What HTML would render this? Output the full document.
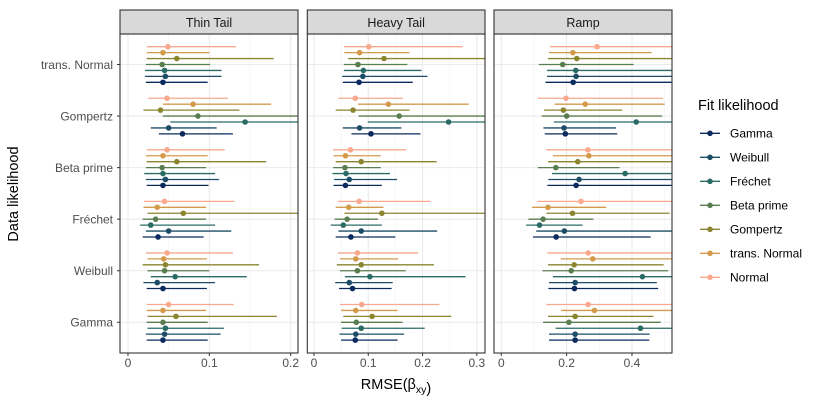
<!DOCTYPE html>
<html><head><meta charset="utf-8"><style>
body{margin:0;background:#fff;font-family:"Liberation Sans",sans-serif;}
svg text{font-family:"Liberation Sans",sans-serif;}
</style></head><body>
<svg id="chart" width="830" height="410" viewBox="0 0 830 410" xmlns="http://www.w3.org/2000/svg">
<g id="panels"></g>
<text transform="translate(18,194) rotate(-90)" text-anchor="middle" font-size="14.5" fill="#000">Data likelihood</text>
<text x="396" y="389" text-anchor="middle" font-size="14.5" fill="#000">RMSE(β<tspan font-size="10.5" dy="4">xy</tspan>)</text>
<g id="legend"></g>
</svg>
<script>
const categories=["Gamma","Weibull","Fréchet","Beta prime","Gompertz","trans. Normal"];
const series=["Gamma","Weibull","Fréchet","Beta prime","Gompertz","trans. Normal","Normal"];
const colors=["#0b2a5e","#1d4d66","#2a6b65","#5a7d4f","#8b8530","#d49a4c","#f8a98e"];
const panelTitles=["Thin Tail","Heavy Tail","Ramp"];
const ticks1=[0,0.1,0.2], ticks2=[0,0.1,0.2,0.3], ticks3=[0,0.2,0.4];
const tickLabels1=["0","0.1","0.2"], tickLabels2=["0","0.1","0.2","0.3"], tickLabels3=["0","0.2","0.4"];
// [lo, mid, hi] per category (Gamma..trans. Normal) per series (Gamma..Normal)
const thin=[
 [[0.023,0.043,0.098],[0.022,0.045,0.114],[0.024,0.046,0.118],[0.023,0.043,0.098],[0.024,0.059,0.183],[0.023,0.043,0.096],[0.023,0.050,0.130]],
 [[0.023,0.043,0.097],[0.019,0.036,0.107],[0.028,0.058,0.146],[0.024,0.045,0.100],[0.018,0.046,0.161],[0.024,0.044,0.097],[0.022,0.048,0.129]],
 [[0.018,0.037,0.093],[0.022,0.050,0.127],[0.015,0.028,0.107],[0.018,0.034,0.096],[0.024,0.068,0.300],[0.019,0.036,0.096],[0.020,0.045,0.131]],
 [[0.023,0.043,0.099],[0.022,0.046,0.112],[0.020,0.043,0.107],[0.022,0.042,0.096],[0.023,0.060,0.170],[0.022,0.043,0.098],[0.023,0.048,0.119]],
 [[0.038,0.067,0.129],[0.028,0.050,0.109],[0.052,0.144,0.300],[0.043,0.086,0.250],[0.019,0.040,0.137],[0.043,0.080,0.176],[0.025,0.048,0.123]],
 [[0.022,0.043,0.098],[0.021,0.046,0.115],[0.021,0.045,0.115],[0.022,0.042,0.101],[0.023,0.060,0.179],[0.023,0.043,0.100],[0.023,0.049,0.133]]
];
const heavy=[
 [[0.050,0.076,0.154],[0.047,0.077,0.166],[0.051,0.087,0.204],[0.050,0.078,0.163],[0.054,0.107,0.253],[0.050,0.077,0.154],[0.048,0.088,0.231]],
 [[0.046,0.071,0.143],[0.039,0.065,0.145],[0.057,0.103,0.279],[0.048,0.080,0.169],[0.042,0.087,0.221],[0.048,0.077,0.155],[0.044,0.080,0.192]],
 [[0.040,0.068,0.150],[0.045,0.087,0.227],[0.031,0.054,0.125],[0.038,0.061,0.118],[0.056,0.125,0.400],[0.040,0.064,0.128],[0.044,0.083,0.215]],
 [[0.036,0.058,0.125],[0.037,0.065,0.153],[0.034,0.059,0.140],[0.035,0.057,0.123],[0.040,0.087,0.226],[0.036,0.058,0.123],[0.035,0.067,0.170]],
 [[0.069,0.105,0.196],[0.053,0.084,0.161],[0.099,0.248,0.400],[0.082,0.157,0.400],[0.040,0.072,0.176],[0.081,0.137,0.285],[0.045,0.076,0.164]],
 [[0.053,0.083,0.182],[0.052,0.090,0.209],[0.055,0.091,0.198],[0.055,0.081,0.172],[0.063,0.129,0.350],[0.056,0.084,0.176],[0.055,0.101,0.274]]
];
const ramp=[
 [[0.146,0.226,0.453],[0.146,0.226,0.454],[0.166,0.426,0.600],[0.128,0.207,0.488],[0.143,0.226,0.466],[0.183,0.285,0.600],[0.138,0.266,0.600]],
 [[0.144,0.224,0.480],[0.146,0.226,0.476],[0.158,0.432,0.600],[0.126,0.214,0.511],[0.143,0.223,0.497],[0.182,0.280,0.600],[0.141,0.266,0.600]],
 [[0.097,0.168,0.457],[0.107,0.193,0.600],[0.076,0.117,0.249],[0.083,0.128,0.282],[0.138,0.218,0.515],[0.094,0.143,0.321],[0.110,0.244,0.600]],
 [[0.141,0.229,0.600],[0.144,0.238,0.600],[0.155,0.379,0.600],[0.112,0.167,0.362],[0.143,0.234,0.600],[0.158,0.268,0.600],[0.138,0.265,0.600]],
 [[0.133,0.196,0.355],[0.129,0.192,0.351],[0.161,0.413,0.600],[0.124,0.200,0.492],[0.131,0.190,0.370],[0.163,0.257,0.500],[0.112,0.198,0.495]],
 [[0.135,0.220,0.600],[0.140,0.229,0.600],[0.140,0.228,0.600],[0.115,0.188,0.405],[0.143,0.231,0.600],[0.146,0.219,0.460],[0.149,0.293,0.600]]
];
const NS="http://www.w3.org/2000/svg";
function mk(tag,attrs,parent){const e=document.createElementNS(NS,tag);for(const k in attrs)e.setAttribute(k,attrs[k]);parent.appendChild(e);return e;}
const panelsG=document.getElementById('panels');
const yTop=34,yBot=353;
function yCat(i){return 322.3-i*51.56;}
function ySer(i,s){return yCat(i)+(3-s)*5.93;}
const panels=[
 {x0:120,x1:298,d0:-0.0098,d1:0.209,data:thin,ticks:ticks1,labels:tickLabels1,minor:[0.05,0.15]},
 {x0:307.3,x1:485,d0:-0.0123,d1:0.315,data:heavy,ticks:ticks2,labels:tickLabels2,minor:[0.05,0.15,0.25]},
 {x0:494,x1:672,d0:-0.0223,d1:0.5225,data:ramp,ticks:ticks3,labels:tickLabels3,minor:[0.1,0.3,0.5]}
];
panels.forEach((p,pi)=>{
 const xs=v=>p.x0+(v-p.d0)/(p.d1-p.d0)*(p.x1-p.x0);
 const g=mk('g',{},panelsG);
 
 
 const cid='clip'+pi;
 const cp=mk('clipPath',{id:cid},g);mk('rect',{x:p.x0,y:yTop,width:p.x1-p.x0,height:yBot-yTop},cp);
 p.minor.forEach(v=>mk('line',{x1:xs(v),x2:xs(v),y1:yTop,y2:yBot,stroke:'#f2f2f2','stroke-width':0.6},g));
 p.ticks.forEach(v=>mk('line',{x1:xs(v),x2:xs(v),y1:yTop,y2:yBot,stroke:'#ebebeb','stroke-width':1.1},g));
 categories.forEach((c,i)=>mk('line',{x1:p.x0,x2:p.x1,y1:yCat(i),y2:yCat(i),stroke:'#ebebeb','stroke-width':1.1},g));
 const mg=mk('g',{'clip-path':'url(#'+cid+')'},g);
 p.data.forEach((cat,i)=>cat.forEach((d,s)=>{
  const y=ySer(i,s);
  const l=mk('line',{x1:xs(d[0]),x2:xs(d[2]),y1:y,y2:y,stroke:colors[s],'stroke-width':1.3},mg);
  
  
  const c=mk('circle',{cx:xs(d[1]),cy:y,r:2.8,fill:colors[s]},mg);
  
  
 }));
 mk('rect',{x:p.x0,y:yTop,width:p.x1-p.x0,height:yBot-yTop,fill:'none',stroke:'#333','stroke-width':1.1},g);
 const st=mk('rect',{x:p.x0,y:10,width:p.x1-p.x0,height:yTop-10,fill:'#d9d9d9',stroke:'#333','stroke-width':1.1},g);
 
 
 const tt=mk('text',{x:(p.x0+p.x1)/2,y:27,'text-anchor':'middle','font-size':12.5,fill:'#1a1a1a'},g);
 tt.textContent=panelTitles[pi];
 
 
 p.ticks.forEach((v,k)=>{
  mk('line',{x1:xs(v),x2:xs(v),y1:yBot,y2:yBot+3,stroke:'#333','stroke-width':1},g);
  const t=mk('text',{x:xs(v),y:yBot+14,'text-anchor':'middle','font-size':12,fill:'#4d4d4d'},g);
  t.textContent=p.labels[k];
  
  
 });
});
categories.forEach((c,i)=>{
 mk('line',{x1:117,x2:120,y1:yCat(i),y2:yCat(i),stroke:'#333','stroke-width':1},panelsG);
 const t=mk('text',{x:113,y:yCat(i)+4.3,'text-anchor':'end','font-size':12,fill:'#4d4d4d'},panelsG);
 t.textContent=c;
 
 
});
const lg=document.getElementById('legend');
const lt=mk('text',{x:698,y:110,'font-size':14.5,fill:'#000'},lg);
lt.textContent='Fit likelihood';


series.forEach((s,k)=>{
 const y=133.3+k*24;
 const e=mk('g',{},lg);
 
 
 mk('line',{x1:700,x2:720,y1:y,y2:y,stroke:colors[k],'stroke-width':1.3},e);
 mk('circle',{cx:710,cy:y,r:2.8,fill:colors[k]},e);
 const t=mk('text',{x:730,y:y+4.3,'font-size':12,fill:'#000'},e);
 t.textContent=s;
});
</script>
</body></html>
